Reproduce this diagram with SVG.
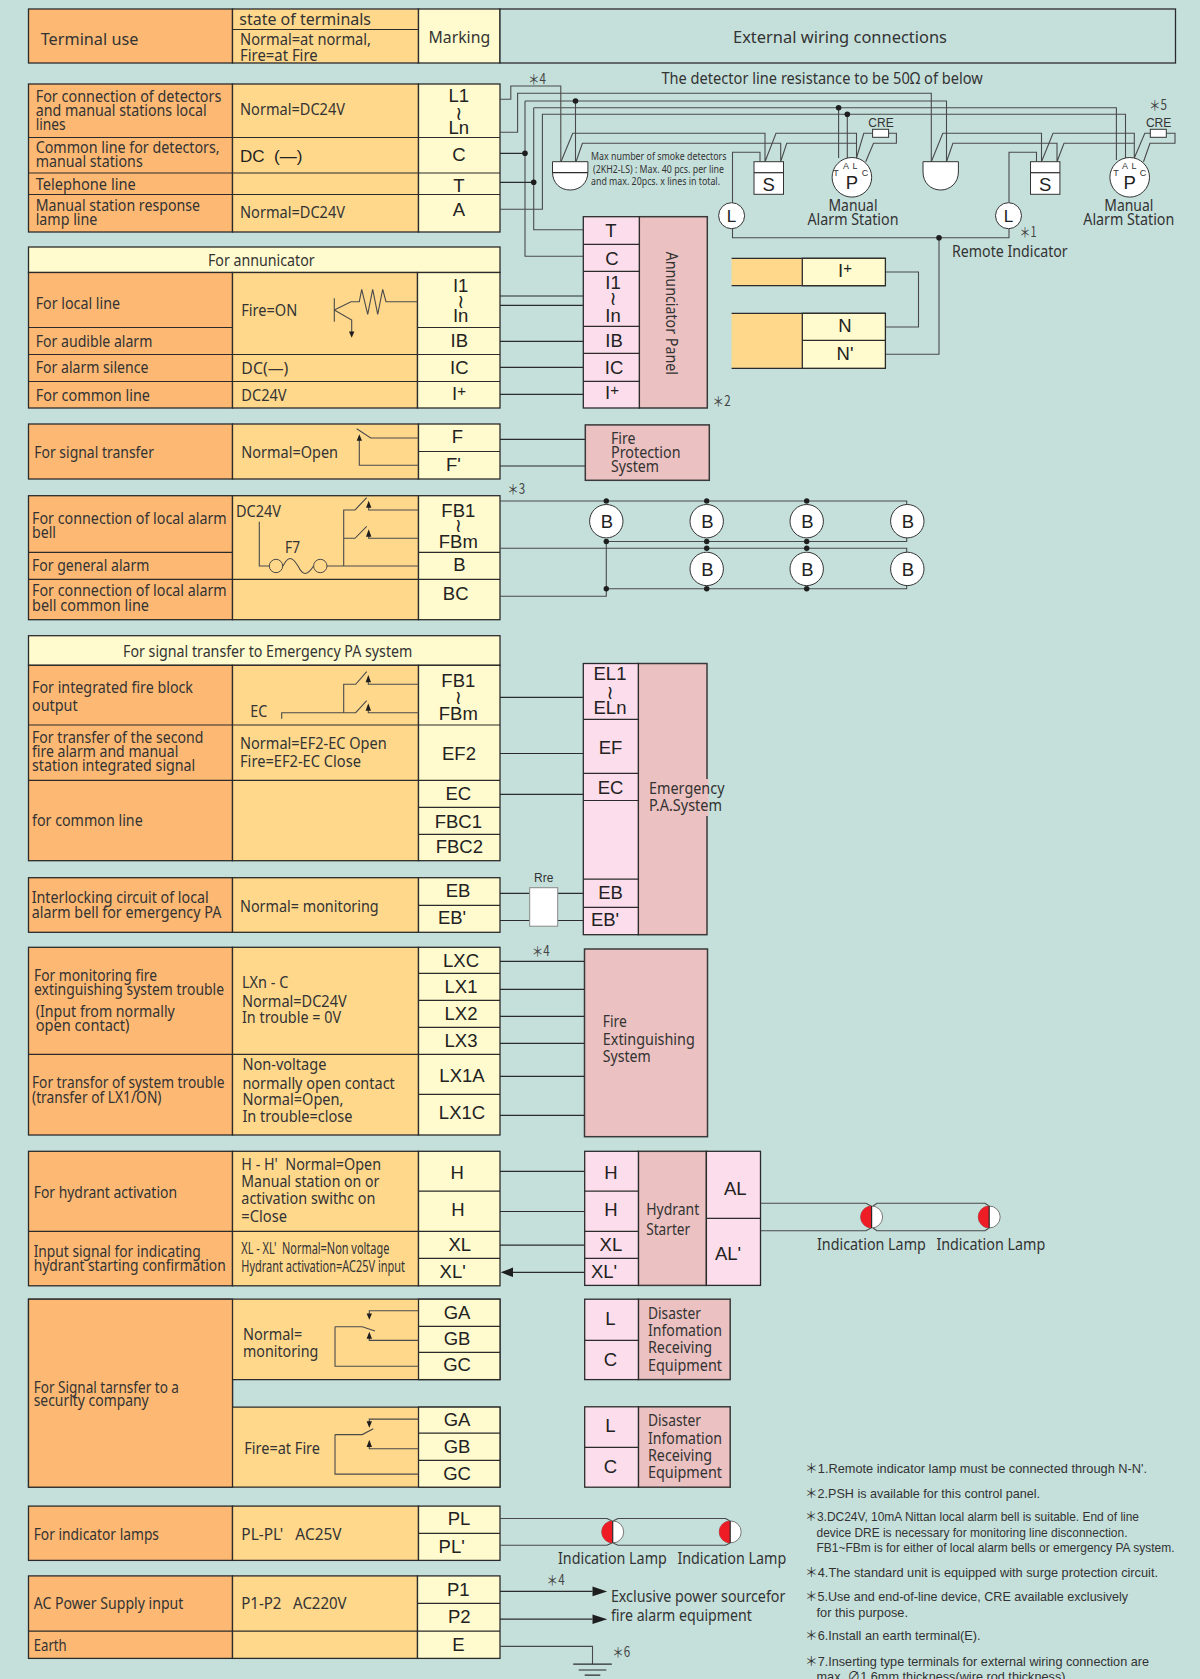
<svg xmlns="http://www.w3.org/2000/svg" width="1200" height="1679" viewBox="0 0 1200 1679">
<style>
.o{fill:#FDB973;stroke:#2b2b2b;stroke-width:1.3}
.d{fill:#FFD88C;stroke:#2b2b2b;stroke-width:1.3}
.y{fill:#FFFBCE;stroke:#2b2b2b;stroke-width:1.3}
.p{fill:#FCDDEB;stroke:#2b2b2b;stroke-width:1.3}
.r{fill:#EBC1C1;stroke:#3a3a3a;stroke-width:1.5}
.w{fill:#fff;stroke:#333;stroke-width:1}
.l{fill:none;stroke:#2b2b2b;stroke-width:1.2}
.s{fill:none;stroke:#4a4a4a;stroke-width:1.1}
.k{fill:#1e1e1e;stroke:none}
text{font-family:"Noto Sans","Open Sans","Noto Sans CJK JP",sans-serif;font-size:16px;fill:#333}
.m{font-family:"Liberation Sans","DejaVu Sans",sans-serif;font-size:18.5px;text-anchor:middle;fill:#222}
.h{font-size:17px}
.c{text-anchor:middle}
.v{font-family:"DejaVu Sans",sans-serif;font-size:19px;text-anchor:middle;fill:#222}
.n{font-family:"Liberation Sans","Noto Sans CJK JP",sans-serif;font-size:13px;fill:#333}
.a{font-family:"Liberation Sans",sans-serif;font-size:17px;fill:#222}
.b{font-family:"Liberation Sans",sans-serif;font-size:12px;fill:#333;text-anchor:middle}
.t{font-family:"Noto Sans CJK JP","Noto Sans",sans-serif;font-size:14px;fill:#444}
</style>
<rect width="1200" height="1679" fill="#C5E0DB"/>

<g id="header">
<rect class="o" x="28.5" y="9" width="204" height="54"/><rect class="d" x="232.5" y="9" width="186" height="54"/><rect class="y" x="418.5" y="9" width="81.5" height="54"/><rect x="500" y="9" width="675.5" height="54" fill="#C5E0DB" stroke="#2b2b2b" stroke-width="1.3"/>
<path class="l" d="M232.5 29.5H418.5"/>
<text class="h" x="40.7" y="45" textLength="97.7" lengthAdjust="spacingAndGlyphs">Terminal use</text>
<text x="239.3" y="25" textLength="131.7" lengthAdjust="spacingAndGlyphs">state of terminals</text>
<text x="240" y="45" textLength="131" lengthAdjust="spacingAndGlyphs">Normal=at normal,</text>
<text x="240" y="61" textLength="77.7" lengthAdjust="spacingAndGlyphs">Fire=at Fire</text>
<text class="h c" x="459.3" y="42.7" textLength="61.7" lengthAdjust="spacingAndGlyphs">Marking</text>
<text class="h" x="733" y="43" textLength="214" lengthAdjust="spacingAndGlyphs">External wiring connections</text>
</g>

<g id="detector-terminals">
<rect class="o" x="28.5" y="84" width="204" height="148"/><rect class="d" x="232.5" y="84" width="186" height="148"/><rect class="y" x="418.5" y="84" width="81.5" height="148"/>
<path class="l" d="M28.5 137.5H500M28.5 173H500M28.5 194.5H500"/>
<text x="35.7" y="101.7" textLength="185.7" lengthAdjust="spacingAndGlyphs">For connection of detectors</text>
<text x="35.7" y="116" textLength="171" lengthAdjust="spacingAndGlyphs">and manual stations local</text>
<text x="35.7" y="130" textLength="30" lengthAdjust="spacingAndGlyphs">lines</text>
<text x="35.7" y="152.7" textLength="184" lengthAdjust="spacingAndGlyphs">Common line for detectors,</text>
<text x="35.7" y="166.7" textLength="107" lengthAdjust="spacingAndGlyphs">manual stations</text>
<text x="35.7" y="190" textLength="100" lengthAdjust="spacingAndGlyphs">Telephone line</text>
<text x="35.7" y="211" textLength="164.3" lengthAdjust="spacingAndGlyphs">Manual station response</text>
<text x="35.7" y="225" textLength="61.7" lengthAdjust="spacingAndGlyphs">lamp line</text>
<text x="240" y="115" textLength="105" lengthAdjust="spacingAndGlyphs">Normal=DC24V</text>
<text class="a" x="240" y="161.5" xml:space="preserve">DC  (—)</text>
<text x="240" y="217.7" textLength="105" lengthAdjust="spacingAndGlyphs">Normal=DC24V</text>
<text class="m" x="458.7" y="101.7">L1</text><text class="v" x="458.7" y="120">≀</text><text class="m" x="458.7" y="134">Ln</text>
<text class="m" x="459" y="161">C</text><text class="m" x="459" y="191.7">T</text><text class="m" x="459" y="216">A</text>
</g>

<g id="annunicator-terminals">
<rect class="y" x="28.5" y="247" width="471.5" height="25.5"/><rect class="o" x="28.5" y="272.5" width="204" height="135.5"/><rect class="d" x="232.5" y="272.5" width="185" height="135.5"/><rect class="y" x="417.5" y="272.5" width="82.5" height="135.5"/>
<path class="l" d="M28.5 327.5H232.5M417.5 327.5H500M28.5 354.5H500M28.5 381.5H500"/>
<text class="c" x="261.3" y="266" textLength="106.7" lengthAdjust="spacingAndGlyphs">For annunicator</text>
<text x="35.7" y="309" textLength="84.3" lengthAdjust="spacingAndGlyphs">For local line</text>
<text x="35.7" y="347" textLength="116.7" lengthAdjust="spacingAndGlyphs">For audible alarm</text>
<text x="35.7" y="373" textLength="112.7" lengthAdjust="spacingAndGlyphs">For alarm silence</text>
<text x="35.7" y="401" textLength="114.3" lengthAdjust="spacingAndGlyphs">For common line</text>
<text x="241.3" y="316" textLength="56" lengthAdjust="spacingAndGlyphs">Fire=ON</text>
<text x="241.3" y="373.7" textLength="47" lengthAdjust="spacingAndGlyphs">DC(—)</text>
<text x="241.3" y="401" textLength="45.3" lengthAdjust="spacingAndGlyphs">DC24V</text>
<path class="s" d="M334.3 298.3V321.7M334.3 310L351 301.7H359.3L361.7 289.3L367.7 314.3L372.7 289.3L377.7 314.3L382.7 289.3L386 301.7H417.5M334.3 310L351.7 320V332"/>
<path class="k" d="M349 331.5H354.4L351.7 337.7Z"/>
<text class="m" x="460.7" y="291.7">I1</text><text class="v" x="460.7" y="308">≀</text><text class="m" x="460.7" y="321.7">In</text>
<text class="m" x="459.3" y="347">IB</text><text class="m" x="459.3" y="374">IC</text><text class="m" x="459" y="400">I<tspan dy="-4" font-size="15">+</tspan></text>
</g>

<g id="signal-transfer-terminals">
<rect class="o" x="28.5" y="424" width="204" height="55"/><rect class="d" x="232.5" y="424" width="186" height="55"/><rect class="y" x="418.5" y="424" width="81.5" height="55"/>
<path class="l" d="M418.5 451.5H500"/>
<text x="34.3" y="458.3" textLength="119.7" lengthAdjust="spacingAndGlyphs">For signal transfer</text>
<text x="241.3" y="458.3" textLength="96.7" lengthAdjust="spacingAndGlyphs">Normal=Open</text>
<path class="s" d="M418.5 438H370.7L356.7 428.7M359.3 440V465.3H418.5"/>
<path class="k" d="M356.7 440.7H362L359.3 434.3Z"/>
<text class="m" x="457.3" y="443.3">F</text><text class="m" x="453.3" y="471">F'</text>
</g>

<g id="alarm-bell-terminals">
<rect class="o" x="28.5" y="495.7" width="204" height="124"/><rect class="d" x="232.5" y="495.7" width="186" height="124"/><rect class="y" x="418.5" y="495.7" width="81.5" height="124"/>
<path class="l" d="M28.5 552.3H232.5M418.5 552.3H500M28.5 579.3H500"/>
<text x="32" y="524" textLength="194.7" lengthAdjust="spacingAndGlyphs">For connection of local alarm</text>
<text x="32" y="538.3" textLength="24" lengthAdjust="spacingAndGlyphs">bell</text>
<text x="32" y="571" textLength="117.3" lengthAdjust="spacingAndGlyphs">For general alarm</text>
<text x="32" y="596" textLength="194.7" lengthAdjust="spacingAndGlyphs">For connection of local alarm</text>
<text x="32" y="611" textLength="117" lengthAdjust="spacingAndGlyphs">bell common line</text>
<text x="236" y="516.7" textLength="45" lengthAdjust="spacingAndGlyphs">DC24V</text>
<text x="285" y="553.3" textLength="15" lengthAdjust="spacingAndGlyphs">F7</text>
<path class="s" d="M259.3 521.7V566H269.3M283 566C288 556 292 556 298 566C303 576 307 576 313.6 566M327 566H418.5M343.7 566V510H355L366.7 497.7M343.7 538.3H355L366.7 526.3M368.7 507V510H418.5M368.7 536V538.3H418.5"/>
<circle cx="276" cy="566" r="6.7" fill="none" stroke="#4a4a4a" stroke-width="1"/><circle cx="320.3" cy="566" r="6.7" fill="none" stroke="#4a4a4a" stroke-width="1"/>
<path class="k" d="M366 507.7H371.4L368.7 500.7ZM366 536.7H371.4L368.7 529.3Z"/>
<text class="m" x="458.3" y="516.7">FB1</text><text class="v" x="458.3" y="532">≀</text><text class="m" x="458.3" y="547.7">FBm</text>
<text class="m" x="459.3" y="571">B</text><text class="m" x="455.7" y="600">BC</text>
</g>

<g id="emergency-pa-terminals">
<rect class="y" x="28.5" y="635.7" width="471.5" height="29.6"/><rect class="o" x="28.5" y="665.3" width="204" height="195.4"/><rect class="d" x="232.5" y="665.3" width="186" height="195.4"/><rect class="y" x="418.5" y="665.3" width="81.5" height="195.4"/>
<path class="l" d="M28.5 725H500M28.5 780.3H500M418.5 807.3H500M418.5 834.3H500"/>
<text class="c" x="267.7" y="657.3" textLength="289.3" lengthAdjust="spacingAndGlyphs">For signal transfer to Emergency PA system</text>
<text x="32" y="693.3" textLength="161" lengthAdjust="spacingAndGlyphs">For integrated fire block</text>
<text x="32" y="710.7" textLength="45.7" lengthAdjust="spacingAndGlyphs">output</text>
<text x="32" y="743.3" textLength="171.3" lengthAdjust="spacingAndGlyphs">For transfer of the second</text>
<text x="32" y="757.3" textLength="146.3" lengthAdjust="spacingAndGlyphs">fire alarm and manual</text>
<text x="32" y="771.3" textLength="163.3" lengthAdjust="spacingAndGlyphs">station integrated signal</text>
<text x="32" y="826" textLength="110.7" lengthAdjust="spacingAndGlyphs">for common line</text>
<text x="250.3" y="716.7" textLength="17" lengthAdjust="spacingAndGlyphs">EC</text>
<text x="240" y="749" textLength="146.7" lengthAdjust="spacingAndGlyphs">Normal=EF2-EC Open</text>
<text x="240" y="766.7" textLength="121" lengthAdjust="spacingAndGlyphs">Fire=EF2-EC Close</text>
<path class="s" d="M281.7 718.7V712.7H355.7L366.7 700.7M343.7 712.7V684.3H355.7L366.7 671.7M368.3 682V684.3H418.5M368.3 710.5V712.7H418.5"/>
<path class="k" d="M365.6 682.3H371L368.3 675ZM365.6 710.7H371L368.3 703.3Z"/>
<text class="m" x="458.3" y="686.7">FB1</text><text class="v" x="458.3" y="704">≀</text><text class="m" x="458.3" y="720">FBm</text>
<text class="m" x="459" y="760">EF2</text><text class="m" x="458.3" y="800">EC</text><text class="m" x="458.3" y="828.3">FBC1</text><text class="m" x="459.3" y="853.3">FBC2</text>
</g>

<g id="interlocking-terminals">
<rect class="o" x="28.5" y="877.7" width="204" height="54.6"/><rect class="d" x="232.5" y="877.7" width="186" height="54.6"/><rect class="y" x="418.5" y="877.7" width="81.5" height="54.6"/>
<path class="l" d="M418.5 905.3H500"/>
<text x="31.7" y="903.3" textLength="177" lengthAdjust="spacingAndGlyphs">Interlocking circuit of local</text>
<text x="31.7" y="917.7" textLength="189.6" lengthAdjust="spacingAndGlyphs">alarm bell for emergency PA</text>
<text x="240" y="911.7" textLength="138.7" lengthAdjust="spacingAndGlyphs">Normal= monitoring</text>
<text class="m" x="458" y="896.7">EB</text><text class="m" x="452" y="924.3">EB'</text>
</g>

<g id="extinguishing-terminals">
<rect class="o" x="28.5" y="947.3" width="204" height="187.7"/><rect class="d" x="232.5" y="947.3" width="186" height="187.7"/><rect class="y" x="418.5" y="947.3" width="81.5" height="187.7"/>
<path class="l" d="M28.5 1054.3H500M418.5 973.3H500M418.5 1000.3H500M418.5 1027.3H500M418.5 1094.3H500"/>
<text x="34" y="981" textLength="123" lengthAdjust="spacingAndGlyphs">For monitoring fire</text>
<text x="34" y="995" textLength="190" lengthAdjust="spacingAndGlyphs">extinguishing system trouble</text>
<text x="35.8" y="1016.7" textLength="139" lengthAdjust="spacingAndGlyphs">(Input from normally</text>
<text x="35.8" y="1031" textLength="93.7" lengthAdjust="spacingAndGlyphs">open contact)</text>
<text x="32" y="1088.3" textLength="192.4" lengthAdjust="spacingAndGlyphs">For transfor of system trouble</text>
<text x="32" y="1102.7" textLength="129.5" lengthAdjust="spacingAndGlyphs">(transfer of LX1/ON)</text>
<text x="242" y="988.3" textLength="46.4" lengthAdjust="spacingAndGlyphs">LXn - C</text>
<text x="242" y="1006.7" textLength="104.7" lengthAdjust="spacingAndGlyphs">Normal=DC24V</text>
<text x="242" y="1023.3" textLength="99" lengthAdjust="spacingAndGlyphs">In trouble = 0V</text>
<text x="242.4" y="1070" textLength="84" lengthAdjust="spacingAndGlyphs">Non-voltage</text>
<text x="242.4" y="1088.7" textLength="152.4" lengthAdjust="spacingAndGlyphs">normally open contact</text>
<text x="242.4" y="1105.3" textLength="101" lengthAdjust="spacingAndGlyphs">Normal=Open,</text>
<text x="242.4" y="1122.3" textLength="110" lengthAdjust="spacingAndGlyphs">In trouble=close</text>
<text class="m" x="461" y="966.7">LXC</text><text class="m" x="461" y="993.3">LX1</text><text class="m" x="461" y="1020">LX2</text><text class="m" x="461" y="1046.7">LX3</text><text class="m" x="462" y="1081.7">LX1A</text><text class="m" x="462" y="1119.3">LX1C</text>
</g>

<g id="hydrant-terminals">
<rect class="o" x="28.5" y="1151.3" width="204" height="134.5"/><rect class="d" x="232.5" y="1151.3" width="186" height="134.5"/><rect class="y" x="418.5" y="1151.3" width="81.5" height="134.5"/>
<path class="l" d="M28.5 1231.4H500M418.5 1191.2H500M418.5 1258.3H500"/>
<text x="33.7" y="1198.4" textLength="143.3" lengthAdjust="spacingAndGlyphs">For hydrant activation</text>
<text x="33.7" y="1256.9" textLength="167" lengthAdjust="spacingAndGlyphs">Input signal for indicating</text>
<text x="33.7" y="1270.6" textLength="192" lengthAdjust="spacingAndGlyphs">hydrant starting confirmation</text>
<text x="241.3" y="1170.3" textLength="139.7" lengthAdjust="spacingAndGlyphs" xml:space="preserve">H - H'  Normal=Open</text>
<text x="241.3" y="1187.4" textLength="138" lengthAdjust="spacingAndGlyphs">Manual station on or</text>
<text x="241.3" y="1204.3" textLength="134" lengthAdjust="spacingAndGlyphs">activation swithc on</text>
<text x="241.3" y="1221.5" textLength="45.7" lengthAdjust="spacingAndGlyphs">=Close</text>
<text x="241.3" y="1254" textLength="148" lengthAdjust="spacingAndGlyphs" xml:space="preserve">XL - XL'  Normal=Non voltage</text>
<text x="241.3" y="1272.3" textLength="163.7" lengthAdjust="spacingAndGlyphs">Hydrant activation=AC25V input</text>
<text class="m" x="457.3" y="1178.5">H</text><text class="m" x="458" y="1216.3">H</text><text class="m" x="459.7" y="1250.7">XL</text><text class="m" x="452.7" y="1278.2">XL'</text>
</g>

<g id="security-terminals">
<path d="M28.5 1299.2H500V1379.6H232.5V1407.1H500V1487.2H28.5Z" fill="#FFD88C" stroke="#2b2b2b" stroke-width="1.3"/>
<rect class="o" x="28.5" y="1299.2" width="204" height="188"/>
<rect class="y" x="418.5" y="1299.2" width="81.5" height="80.4"/><rect class="y" x="418.5" y="1407.1" width="81.5" height="80.1"/>
<path class="l" d="M418.5 1326.3H500M418.5 1352.4H500M418.5 1433.2H500M418.5 1460.4H500"/>
<text x="33.7" y="1392.7" textLength="145.3" lengthAdjust="spacingAndGlyphs">For Signal tarnsfer to a</text>
<text x="33.7" y="1406.4" textLength="115" lengthAdjust="spacingAndGlyphs">security company</text>
<text x="243" y="1340" textLength="59.3" lengthAdjust="spacingAndGlyphs">Normal=</text>
<text x="243" y="1357.3" textLength="75.3" lengthAdjust="spacingAndGlyphs">monitoring</text>
<text x="244.3" y="1453.9" textLength="75.7" lengthAdjust="spacingAndGlyphs">Fire=at Fire</text>
<path class="s" d="M418.5 1310.8H369.3V1314M335 1326.7H362.3L375 1331.1M335 1326.7V1366.2H418.5M369.3 1338V1340.4H418.5M418.5 1419.1H369.3V1422M335 1434.6H362.3L373.3 1428.8M335 1434.6V1474.1H418.5M369.3 1446V1448.7H418.5"/>
<path class="k" d="M366.6 1313.6H372L369.3 1319.8ZM366.6 1338.7H372L369.3 1331.8ZM366.6 1421.2H372L369.3 1427.7ZM366.6 1447H372L369.3 1439.8Z"/>
<text class="m" x="457" y="1318.8">GA</text><text class="m" x="457" y="1345.2">GB</text><text class="m" x="457" y="1371.3">GC</text>
<text class="m" x="457" y="1426">GA</text><text class="m" x="457" y="1452.8">GB</text><text class="m" x="457" y="1479.6">GC</text>
</g>

<g id="lamp-terminals">
<rect class="o" x="28.5" y="1506.1" width="204" height="54.3"/><rect class="d" x="232.5" y="1506.1" width="186" height="54.3"/><rect class="y" x="418.5" y="1506.1" width="81.5" height="54.3"/>
<path class="l" d="M418.5 1533.3H500"/>
<text x="33.7" y="1539.5" textLength="125.3" lengthAdjust="spacingAndGlyphs">For indicator lamps</text>
<text x="241.3" y="1539.5" textLength="100.3" lengthAdjust="spacingAndGlyphs" xml:space="preserve">PL-PL'   AC25V</text>
<text class="m" x="459" y="1525">PL</text><text class="m" x="451.7" y="1552.5">PL'</text>
</g>

<g id="power-terminals">
<rect class="o" x="28.5" y="1575.9" width="204" height="82.5"/><rect class="d" x="232.5" y="1575.9" width="185" height="82.5"/><rect class="y" x="417.5" y="1575.9" width="82.5" height="82.5"/>
<path class="l" d="M417.5 1603.4H500M28.5 1631.2H500"/>
<text x="33.7" y="1609.2" textLength="149.7" lengthAdjust="spacingAndGlyphs">AC Power Supply input</text>
<text x="33.7" y="1650.5" textLength="33" lengthAdjust="spacingAndGlyphs">Earth</text>
<text x="241.3" y="1609.2" textLength="105.3" lengthAdjust="spacingAndGlyphs" xml:space="preserve">P1-P2   AC220V</text>
<text class="m" x="458.3" y="1596.2">P1</text><text class="m" x="459.3" y="1623">P2</text><text class="m" x="458.3" y="1651.2">E</text>
</g>

<g id="connectors">
<path class="s" d="M500 99.3H510.8V86H560.8V161.7M500 132.3H517.6V93.3H931.3V161.7M525 101V256.3H583.3M525 101H946.5V161.7M575.5 101V161.7M533.7 107.7V229.7H583.3M533.7 107.7H1116.4V160M838.6 107.7V158M500 209.3H542.4V114.3H1125.5V158M847.3 114.3V158"/>
<path class="l" d="M500 153.3H525M500 182.3H533.7"/>
<path class="s" d="M561 161.7L572.7 133.3H765V161.7M576 161.7L582.4 143.3H780.7V161.7M765 161.7L776 133.3H856.5V158L863.8 133.3H872.6M888.6 133.3H896.4V143.3H873.5L865.7 161.7M780.7 161.7L786.7 143.3H856.5M931.3 161.7L942.8 133.3H1041.5V161.7M946.5 161.7L952.9 143.3H1057V161.7M1041.5 161.7L1053 133.3H1134.3V158L1144.8 133.3H1150.3M1166.4 133.3H1175V143.3H1150L1143.5 161.7M1057 161.7L1064 143.3H1134.3"/>
<path class="s" d="M732.5 202.7V152.3H760V161.7M1009 202.7V152.3H1036.5V161.7M732.5 229V237.7H1009V229M939 237.7V354.3H886M885.4 272H918.5V327H885.4"/>
<path class="l" d="M500 296H583.3M500 305.3H583.3M500 341.3H583.3M500 367.3H583.3M500 394.3H583.3M500 439.3H585.3M500 466H585.3"/>
<path class="s" d="M500 501H906.7V506M606.3 541.5H906.7V536M500 548.3H906.7V553M606.3 588.8H906.7V584M500 596.3H606.3V541.5"/>
<path class="l" d="M500 697.4H583.3M500 753.5H583.3M500 794.4H583.3M500 893.4H529.7M557.7 893.4H583.3M500 920.5H529.7M557.7 920.5H583.3M500 961.3H584.5M500 989.3H584.5M500 1016.3H584.5M500 1043.3H584.5M500 1076.3H584.5M500 1115.3H584.5M500 1171.3H584.7M500 1211.5H584.7M500 1245.2H584.7M513 1272.3H584.7"/>
<path class="k" d="M500.7 1272.3L513 1267.5V1277.1Z"/>
<path class="s" d="M760.5 1203.3H866L871 1206M760.5 1230.8H866L871 1228M873 1206L877 1203.3H985L989 1206M873 1228L877 1230.8H985L989 1228M500 1518.5H607L612 1521M500 1545.3H607L612 1543M613 1521L618 1518.5H725.6L730 1521M613 1543L618 1545.3H725.6L730 1543"/>
<path class="l" d="M500 1591.4H592.5M500 1619.2H592.5"/>
<path class="k" d="M607.2 1591.4L592.5 1586.6V1596.2ZM607.2 1619.2L592.5 1614.4V1624Z"/>
<path class="s" d="M500 1646.4H592.5V1664.2"/>
<path class="l" d="M573.2 1664.2H611.8M578.7 1670H606.3M584.7 1675.2H600.3"/>
<g class="k">
<circle cx="525" cy="153.3" r="2.8"/><circle cx="533.7" cy="182.3" r="2.8"/><circle cx="575.5" cy="101" r="2.8"/><circle cx="838.6" cy="107.7" r="2.8"/><circle cx="847.3" cy="114.3" r="2.8"/><circle cx="939" cy="237.7" r="2.8"/>
<circle cx="606.3" cy="501" r="2.7"/><circle cx="706.7" cy="501" r="2.7"/><circle cx="806.7" cy="501" r="2.7"/><circle cx="606.3" cy="541.5" r="2.7"/><circle cx="706.7" cy="541.5" r="2.7"/><circle cx="806.7" cy="541.5" r="2.7"/><circle cx="706.7" cy="548.3" r="2.7"/><circle cx="806.7" cy="548.3" r="2.7"/><circle cx="606.3" cy="588.8" r="2.7"/><circle cx="706.7" cy="588.8" r="2.7"/><circle cx="806.7" cy="588.8" r="2.7"/>
</g>
</g>

<g id="field-labels">
<text class="t" x="528" y="84" textLength="18" lengthAdjust="spacingAndGlyphs">＊4</text>
<text x="661.4" y="84" textLength="321.4" lengthAdjust="spacingAndGlyphs">The detector line resistance to be 50Ω of below</text>
<text class="t" x="1149" y="110" textLength="18" lengthAdjust="spacingAndGlyphs">＊5</text>
<text class="t" x="1019.5" y="236.7" textLength="17" lengthAdjust="spacingAndGlyphs">＊1</text>
<text x="952" y="256.7" textLength="115.7" lengthAdjust="spacingAndGlyphs">Remote Indicator</text>
<text class="t" x="712.6" y="406" textLength="18" lengthAdjust="spacingAndGlyphs">＊2</text>
<text class="t" x="507.3" y="493.8" textLength="18" lengthAdjust="spacingAndGlyphs">＊3</text>
<text class="t" x="531.7" y="956" textLength="18" lengthAdjust="spacingAndGlyphs">＊4</text>
<text class="t" x="546.6" y="1584.5" textLength="18" lengthAdjust="spacingAndGlyphs">＊4</text>
<text class="t" x="612.2" y="1656.7" textLength="18" lengthAdjust="spacingAndGlyphs">＊6</text>
</g>

<g id="detector-1">
<path d="M552.5 161.7H587.9V172C587.9 183 580 190 570.2 190C560 190 552.5 183 552.5 172Z" fill="#fff" stroke="#333"/><path class="l" d="M552.5 172.7H587.9"/>
</g>
<text x="591" y="160" textLength="135.4" lengthAdjust="spacingAndGlyphs" style="font-size:11px">Max number of smoke detectors</text>
<text x="593" y="172.7" textLength="131" lengthAdjust="spacingAndGlyphs" style="font-size:11px">(2KH2-LS) : Max. 40 pcs. per line</text>
<text x="591" y="185" textLength="129" lengthAdjust="spacingAndGlyphs" style="font-size:11px">and max. 20pcs. x lines in total.</text>
<g id="detector-2"><path d="M923 161.7H958.4V172C958.4 183 950 190 940.7 190C931 190 923 183 923 172Z" fill="#fff" stroke="#333"/></g>
<g id="s-1"><rect class="w" x="754" y="161.7" width="29.5" height="32.6"/><path class="l" d="M754 172.7H783.5"/><text class="m" x="768.7" y="191">S</text></g>
<g id="s-2"><rect class="w" x="1030.5" y="161.7" width="29.4" height="32.6"/><path class="l" d="M1030.5 172.7H1059.9"/><text class="m" x="1045.2" y="191">S</text></g>
<g id="manual-station-1">
<circle class="w" cx="851.9" cy="177.3" r="19.8"/><text class="m" x="851.9" y="189">P</text>
<text x="836" y="176" style="font-size:9px" class="b">T</text><text x="846" y="169" style="font-size:9px" class="b">A</text><text x="855" y="169" style="font-size:9px" class="b">L</text><text x="865" y="176" style="font-size:9px" class="b">C</text>
<text class="c" x="853" y="210.7" textLength="49" lengthAdjust="spacingAndGlyphs">Manual</text>
<text class="c" x="853" y="225" textLength="91" lengthAdjust="spacingAndGlyphs">Alarm Station</text>
</g>
<g id="manual-station-2">
<circle class="w" cx="1129.7" cy="177.3" r="19.8"/><text class="m" x="1129.7" y="189">P</text>
<text x="1116" y="176" style="font-size:9px" class="b">T</text><text x="1125" y="169" style="font-size:9px" class="b">A</text><text x="1134" y="169" style="font-size:9px" class="b">L</text><text x="1143" y="176" style="font-size:9px" class="b">C</text>
<text class="c" x="1128.8" y="210.7" textLength="49" lengthAdjust="spacingAndGlyphs">Manual</text>
<text class="c" x="1128.8" y="225" textLength="91" lengthAdjust="spacingAndGlyphs">Alarm Station</text>
</g>
<g id="cre-1"><rect class="w" x="872.6" y="129.3" width="16" height="8"/><text class="b" x="881" y="126.7">CRE</text></g>
<g id="cre-2"><rect class="w" x="1150.3" y="129.3" width="16" height="8"/><text class="b" x="1158.6" y="126.7">CRE</text></g>
<g id="l-1"><circle class="w" cx="731.6" cy="215.7" r="13"/><text class="m" x="731.6" y="222" style="font-size:17px">L</text></g>
<g id="l-2"><circle class="w" cx="1008.5" cy="215.7" r="13"/><text class="m" x="1008.5" y="222" style="font-size:17px">L</text></g>

<g id="annunciator-panel">
<rect class="r" x="639.3" y="216.7" width="68" height="191.3"/><rect class="p" x="583.3" y="216.7" width="56" height="191.3"/>
<path class="l" d="M583.3 244.3H639.3M583.3 271.3H639.3M583.3 326.3H639.3M583.3 353.3H639.3M583.3 381.3H639.3"/>
<text class="m" x="611" y="237">T</text><text class="m" x="612" y="265">C</text><text class="m" x="613" y="289">I1</text><text class="v" x="613" y="305">≀</text><text class="m" x="613" y="322">In</text><text class="m" x="614" y="347">IB</text><text class="m" x="614" y="374">IC</text><text class="m" x="612" y="399">I<tspan dy="-4" font-size="15">+</tspan></text>
<text class="c" transform="translate(666 313.3) rotate(90)" textLength="123.3" lengthAdjust="spacingAndGlyphs">Annunciator Panel</text>
</g>

<g id="remote-indicator-terminals">
<path d="M731.6 258.3H802.3V285.7H731.6Z" fill="#FFD88C"/><path class="l" d="M731.6 258.3H885.4M731.6 285.7H885.4"/><rect class="y" x="802.3" y="258.3" width="83.1" height="27.4"/>
<path d="M731.6 313.3H802.3V368.3H731.6Z" fill="#FFD88C"/><path class="l" d="M731.6 313.3H885.4M731.6 368.3H885.4"/><rect class="y" x="802.3" y="313.3" width="83.1" height="55"/><path class="l" d="M802.3 340.3H885.4"/>
<text class="m" x="845" y="277">I<tspan dy="-4" font-size="15">+</tspan></text><text class="m" x="845" y="332">N</text><text class="m" x="845" y="360">N'</text>
</g>

<g id="fire-protection-system">
<rect class="r" x="585.3" y="424.9" width="124" height="55.4"/>
<text x="611" y="443.8" textLength="24.5" lengthAdjust="spacingAndGlyphs">Fire</text>
<text x="611" y="458" textLength="69.5" lengthAdjust="spacingAndGlyphs">Protection</text>
<text x="611" y="471.9" textLength="48" lengthAdjust="spacingAndGlyphs">System</text>
</g>

<g id="bells">
<circle class="w" cx="606.3" cy="521.2" r="16.7"/><text class="m" x="607" y="528">B</text>
<circle class="w" cx="706.7" cy="521.2" r="16.7"/><text class="m" x="707.5" y="528">B</text>
<circle class="w" cx="806.7" cy="521.2" r="16.7"/><text class="m" x="807.5" y="528">B</text>
<circle class="w" cx="907.3" cy="521.2" r="16.7"/><text class="m" x="908" y="528">B</text>
<circle class="w" cx="706.7" cy="568.9" r="16.7"/><text class="m" x="707.5" y="575.5">B</text>
<circle class="w" cx="806.7" cy="568.9" r="16.7"/><text class="m" x="807.5" y="575.5">B</text>
<circle class="w" cx="907.3" cy="568.9" r="16.7"/><text class="m" x="908" y="575.5">B</text>
</g>

<g id="emergency-pa-system">
<rect class="r" x="638.3" y="663.5" width="68.7" height="271.2"/><rect class="p" x="583.3" y="663.5" width="55" height="271.2"/>
<rect x="705.5" y="779" width="3" height="37" fill="#EBC1C1"/>
<path class="l" d="M583.3 719.3H638.3M583.3 773.4H638.3M583.3 800.5H638.3M583.3 879.2H638.3M583.3 907.3H638.3"/>
<text class="m" x="610" y="680.4">EL1</text><text class="v" x="610" y="699">≀</text><text class="m" x="610" y="713.6">ELn</text>
<text class="m" x="610.5" y="753.8">EF</text><text class="m" x="610.5" y="793.7">EC</text><text class="m" x="610.5" y="899.2">EB</text><text class="m" x="605" y="926">EB'</text>
<text x="649" y="794.4" textLength="75.5" lengthAdjust="spacingAndGlyphs">Emergency</text>
<text x="649" y="811.3" textLength="73" lengthAdjust="spacingAndGlyphs">P.A.System</text>
</g>
<g id="rre"><rect x="529.7" y="887.7" width="28" height="38.5" fill="#fff" stroke="#888"/><text class="b" x="543.7" y="881.6">Rre</text></g>

<g id="fire-extinguishing-system">
<rect class="r" x="584.5" y="949" width="123" height="187.7"/>
<text x="602.8" y="1026.7" textLength="24" lengthAdjust="spacingAndGlyphs">Fire</text>
<text x="602.8" y="1045" textLength="92" lengthAdjust="spacingAndGlyphs">Extinguishing</text>
<text x="602.8" y="1061.7" textLength="48" lengthAdjust="spacingAndGlyphs">System</text>
</g>

<g id="hydrant-starter">
<rect class="r" x="638.4" y="1151.3" width="68" height="134.1"/><rect class="p" x="584.7" y="1151.3" width="53.7" height="134.1"/><rect class="p" x="706.4" y="1151.3" width="54.1" height="134.1"/>
<path class="l" d="M584.7 1191.2H638.4M584.7 1231.4H638.4M584.7 1258.3H638.4M706.4 1218.4H760.5"/>
<text class="m" x="610.9" y="1178.5">H</text><text class="m" x="610.9" y="1216.3">H</text><text class="m" x="610.9" y="1250.7">XL</text><text class="m" x="604" y="1277.5">XL'</text>
<text x="646.2" y="1215" textLength="53" lengthAdjust="spacingAndGlyphs">Hydrant</text>
<text x="646.2" y="1234.9" textLength="44" lengthAdjust="spacingAndGlyphs">Starter</text>
<text class="m" x="735.3" y="1195">AL</text><text class="m" x="728" y="1260.3">AL'</text>
</g>

<g id="lamp-1"><circle cx="871.6" cy="1217" r="11" fill="#fff" stroke="#777"/><path d="M871.6 1206A11 11 0 0 0 871.6 1228Z" fill="#EE1C25"/><path class="l" d="M871.6 1206V1228"/><text x="817" y="1250" textLength="108.8" lengthAdjust="spacingAndGlyphs">Indication Lamp</text></g>
<g id="lamp-2"><circle cx="989.2" cy="1217" r="11" fill="#fff" stroke="#777"/><path d="M989.2 1206A11 11 0 0 0 989.2 1228Z" fill="#EE1C25"/><path class="l" d="M989.2 1206V1228"/><text x="936.4" y="1250" textLength="108.8" lengthAdjust="spacingAndGlyphs">Indication Lamp</text></g>

<g id="disaster-1">
<rect class="r" x="638.4" y="1299.2" width="91.8" height="80.4"/><rect class="p" x="584.7" y="1299.2" width="53.7" height="80.4"/><path class="l" d="M584.7 1340.4H638.4"/>
<text class="m" x="610.4" y="1324.6">L</text><text class="m" x="610.4" y="1365.9">C</text>
<text x="648" y="1318.8" textLength="53" lengthAdjust="spacingAndGlyphs">Disaster</text>
<text x="648" y="1336" textLength="74" lengthAdjust="spacingAndGlyphs">Infomation</text>
<text x="648" y="1353" textLength="64" lengthAdjust="spacingAndGlyphs">Receiving</text>
<text x="648" y="1371" textLength="74" lengthAdjust="spacingAndGlyphs">Equipment</text>
</g>
<g id="disaster-2">
<rect class="r" x="638.4" y="1406.8" width="91.8" height="80.4"/><rect class="p" x="584.7" y="1406.8" width="53.7" height="80.4"/><path class="l" d="M584.7 1447.3H638.4"/>
<text class="m" x="610.4" y="1432.2">L</text><text class="m" x="610.4" y="1472.8">C</text>
<text x="648" y="1426" textLength="53" lengthAdjust="spacingAndGlyphs">Disaster</text>
<text x="648" y="1443.9" textLength="74" lengthAdjust="spacingAndGlyphs">Infomation</text>
<text x="648" y="1461" textLength="64" lengthAdjust="spacingAndGlyphs">Receiving</text>
<text x="648" y="1478.3" textLength="74" lengthAdjust="spacingAndGlyphs">Equipment</text>
</g>

<g id="lamp-3"><circle cx="612.7" cy="1531.9" r="11" fill="#fff" stroke="#777"/><path d="M612.7 1520.9A11 11 0 0 0 612.7 1542.9Z" fill="#EE1C25"/><path class="l" d="M612.7 1520.9V1542.9"/><text x="558" y="1563.9" textLength="108.8" lengthAdjust="spacingAndGlyphs">Indication Lamp</text></g>
<g id="lamp-4"><circle cx="730.2" cy="1531.9" r="11" fill="#fff" stroke="#777"/><path d="M730.2 1520.9A11 11 0 0 0 730.2 1542.9Z" fill="#EE1C25"/><path class="l" d="M730.2 1520.9V1542.9"/><text x="677.4" y="1563.9" textLength="108.8" lengthAdjust="spacingAndGlyphs">Indication Lamp</text></g>

<g id="power-source">
<text x="610.9" y="1602.4" textLength="174.5" lengthAdjust="spacingAndGlyphs">Exclusive power sourcefor</text>
<text x="610.9" y="1621.3" textLength="141" lengthAdjust="spacingAndGlyphs">fire alarm equipment</text>
</g>

<g id="notes">
<text class="n" x="805" y="1473.4" textLength="342" lengthAdjust="spacingAndGlyphs">＊1.Remote indicator lamp must be connected through N-N'.</text>
<text class="n" x="805" y="1497.5" textLength="235" lengthAdjust="spacingAndGlyphs">＊2.PSH is available for this control panel.</text>
<text class="n" x="805" y="1520.9" textLength="334" lengthAdjust="spacingAndGlyphs">＊3.DC24V, 10mA Nittan local alarm bell is suitable. End of line</text>
<text class="n" x="816.5" y="1537" textLength="311" lengthAdjust="spacingAndGlyphs">device DRE is necessary for monitoring line disconnection.</text>
<text class="n" x="816.5" y="1551.8" textLength="358" lengthAdjust="spacingAndGlyphs">FB1~FBm is for either of local alarm bells or emergency PA system.</text>
<text class="n" x="805" y="1576.6" textLength="353" lengthAdjust="spacingAndGlyphs">＊4.The standard unit is equipped with surge protection circuit.</text>
<text class="n" x="805" y="1600.7" textLength="323" lengthAdjust="spacingAndGlyphs">＊5.Use and end-of-line device, CRE available exclusively</text>
<text class="n" x="816.5" y="1616.8" textLength="91.5" lengthAdjust="spacingAndGlyphs">for this purpose.</text>
<text class="n" x="805" y="1640.2" textLength="175.5" lengthAdjust="spacingAndGlyphs">＊6.Install an earth terminal(E).</text>
<text class="n" x="805" y="1666" textLength="344" lengthAdjust="spacingAndGlyphs">＊7.Inserting type terminals for external wiring connection are</text>
<text class="n" x="816.5" y="1681" textLength="249" lengthAdjust="spacingAndGlyphs">max. ∅1.6mm thickness(wire rod thickness)</text>
</g>
</svg>
